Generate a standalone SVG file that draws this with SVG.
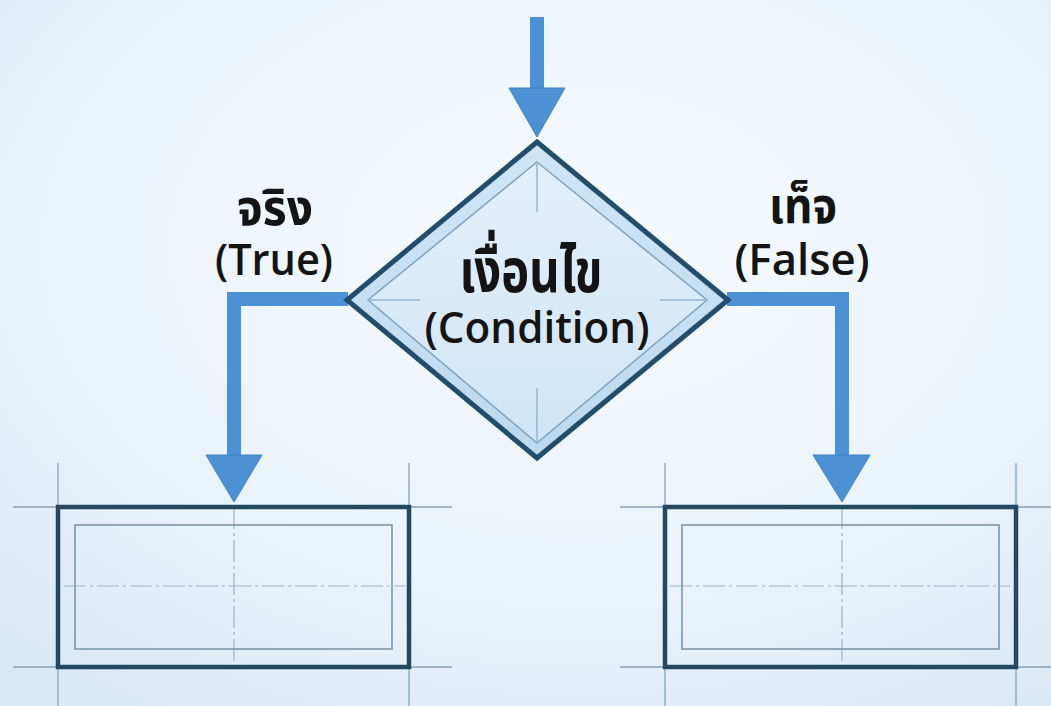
<svg xmlns="http://www.w3.org/2000/svg" width="1051" height="706" viewBox="0 0 1051 706">
  <defs>
    <radialGradient id="bg" cx="0.55" cy="0.35" r="0.8">
      <stop offset="0" stop-color="#f6fafd"/>
      <stop offset="0.6" stop-color="#eaf3fa"/>
      <stop offset="1" stop-color="#d9e9f5"/>
    </radialGradient>
    <linearGradient id="diaOuter" x1="0" y1="0" x2="0" y2="1">
      <stop offset="0" stop-color="#cfe5f6"/>
      <stop offset="1" stop-color="#bcd9f0"/>
    </linearGradient>
    <linearGradient id="diaInner" x1="0" y1="0" x2="0" y2="1">
      <stop offset="0" stop-color="#e3f0fa"/>
      <stop offset="1" stop-color="#d0e5f5"/>
    </linearGradient>
    <style>
      .label { font-family: "Open Sans", "Noto Sans", "Noto Sans Thai", "DejaVu Sans", sans-serif; fill: #141414; text-anchor: middle; font-weight: 600; }
      .thai { font-weight: 700; }
      .shaft { fill: none; stroke: #4b91d3; stroke-width: 14; stroke-linejoin: miter; }
      .head { fill: #4b91d3; stroke: #3f84c4; stroke-width: 1; stroke-linejoin: round; }
      .outer { fill: none; stroke: #23485f; stroke-width: 4.5; }
      .inner { fill: none; stroke: #7d96a8; stroke-width: 1.6; }
      .ext { stroke: #8aa1b2; stroke-width: 1.3; }
      .center { stroke: #9fb3c2; stroke-width: 1.2; stroke-dasharray: 22 4 3 4; }
      .cross { stroke: #93b6cf; stroke-width: 1.5; }
    </style>
  </defs>

  <rect width="1051" height="706" fill="url(#bg)"/>

  <!-- connectors -->
  <g id="connectors">
    <path class="shaft" d="M537,17 V92"/>
    <polygon class="head" points="509,88 565,88 537,137"/>
    <path class="shaft" d="M348,299 H234 V458"/>
    <polygon class="head" points="206,455 262,455 234,502"/>
    <path class="shaft" d="M727,299 H842 V458"/>
    <polygon class="head" points="813,455 870,455 842,502"/>
  </g>

  <!-- decision diamond -->
  <g id="condition">
    <polygon points="537,142 728,300 537,458 347,300" fill="url(#diaOuter)" stroke="#234e6b" stroke-width="5" stroke-linejoin="miter"/>
    <polygon points="537,162 707,300 537,443 368,300" fill="url(#diaInner)" stroke="#7fa3bc" stroke-width="1.5"/>
    <line class="cross" x1="537" y1="162" x2="537" y2="212"/>
    <line class="cross" x1="537" y1="388" x2="537" y2="443"/>
    <line class="cross" x1="368" y1="300" x2="420" y2="300"/>
    <line class="cross" x1="660" y1="300" x2="707" y2="300"/>
    <text class="label thai" x="531" y="292" font-size="60" textLength="143" lengthAdjust="spacingAndGlyphs">เงื่อนไข</text>
    <text class="label" x="537" y="343" font-size="44" textLength="225" lengthAdjust="spacingAndGlyphs">(Condition)</text>
  </g>

  <!-- branch labels -->
  <g id="label-true">
    <text class="label thai" x="275" y="225" font-size="50" textLength="76" lengthAdjust="spacingAndGlyphs">จริง</text>
    <text class="label" x="274" y="275" font-size="44" textLength="118" lengthAdjust="spacingAndGlyphs">(True)</text>
  </g>
  <g id="label-false">
    <text class="label thai" x="803" y="223" font-size="50" textLength="68" lengthAdjust="spacingAndGlyphs">เท็จ</text>
    <text class="label" x="802" y="275" font-size="44" textLength="135" lengthAdjust="spacingAndGlyphs">(False)</text>
  </g>

  <!-- left process box -->
  <g id="box-true">
    <line class="ext" x1="13" y1="507" x2="452" y2="507"/>
    <line class="ext" x1="13" y1="667" x2="452" y2="667"/>
    <line class="ext" x1="58" y1="463" x2="58" y2="706"/>
    <line class="ext" x1="409" y1="463" x2="409" y2="706"/>
    <line class="center" x1="234" y1="507" x2="234" y2="667"/>
    <line class="center" x1="64" y1="586" x2="405" y2="586"/>
    <rect class="inner" x="75" y="525" width="317" height="124"/>
    <rect class="outer" x="58" y="507" width="351" height="160"/>
  </g>

  <!-- right process box -->
  <g id="box-false">
    <line class="ext" x1="620" y1="507" x2="1051" y2="507"/>
    <line class="ext" x1="620" y1="667" x2="1051" y2="667"/>
    <line class="ext" x1="665" y1="463" x2="665" y2="706"/>
    <line class="ext" x1="1016" y1="463" x2="1016" y2="706"/>
    <line class="center" x1="842" y1="507" x2="842" y2="667"/>
    <line class="center" x1="670" y1="586" x2="1010" y2="586"/>
    <rect class="inner" x="682" y="525" width="317" height="124"/>
    <rect class="outer" x="665" y="507" width="351" height="160"/>
  </g>
</svg>
